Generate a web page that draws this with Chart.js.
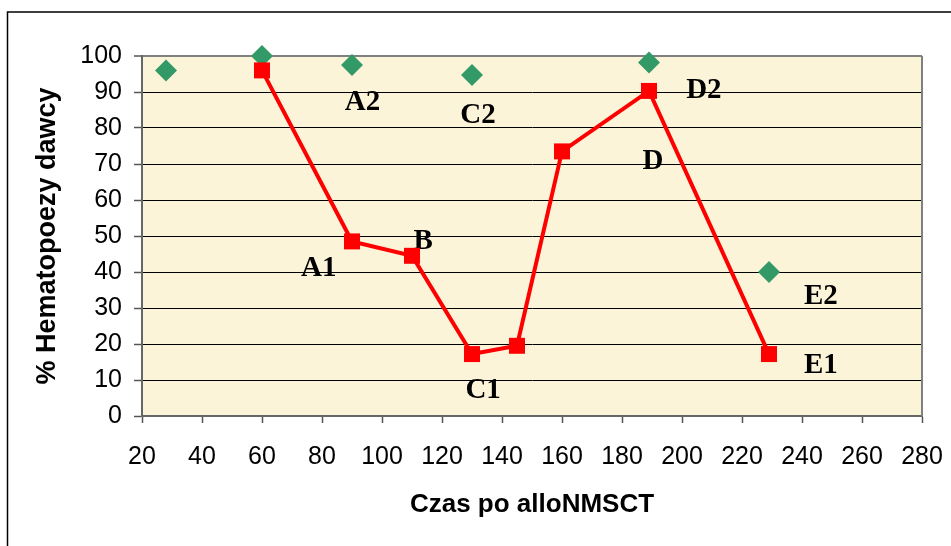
<!DOCTYPE html>
<html>
<head>
<meta charset="utf-8">
<script src="https://cdn.jsdelivr.net/npm/chart.js@4/dist/chart.umd.min.js"></script>
<style>
  html, body { margin: 0; padding: 0; background: #fff; }
  #wrap { width: 951px; height: 546px; }
</style>
</head>
<body>
<div id="wrap"><canvas id="c" width="951" height="546"></canvas></div>
<script>
// Days after alloNMSCT and % donor haematopoiesis
const daysRed = [60, 90, 110, 130, 145, 160, 189, 229];
const valuesRed = [96, 48.5, 44.5, 17.2, 19.5, 73.5, 90.3, 17.2];

const daysGreen = [28, 60, 90, 130, 189, 229];
const valuesGreen = [96, 100, 97.5, 94.7, 98.2, 40];

// Point annotations (anchored in axis units)
const noteText = ['A2', 'C2', 'D2', 'D', 'A1', 'B', 'C1', 'E2', 'E1'];
const noteDay = [93.5, 132, 207.3, 190.3, 78.9, 113.7, 133.7, 246.3, 246.3];
const noteValue = [87.1, 83.6, 90.3, 70.6, 41.0, 48.4, 7.0, 33.3, 13.9];

const xTicks = { min: 20, max: 280, step: 20 };
const yTicks = { min: 0, max: 100, step: 10 };

const toPoints = (xs, ys) => xs.map((x, i) => ({ x, y: ys[i] }));

const backdrop = {
  id: 'backdrop',
  beforeDraw(chart) {
    const { ctx, chartArea: a, scales } = chart;
    ctx.save();
    // plot area fill
    ctx.fillStyle = '#fcf4d9';
    ctx.fillRect(a.left, a.top, a.right - a.left, a.bottom - a.top);
    // outer frame (left and top edges)
    ctx.strokeStyle = '#000';
    ctx.lineWidth = 1.5;
    ctx.beginPath();
    ctx.moveTo(7.5, 546);
    ctx.lineTo(7.5, 12);
    ctx.lineTo(951, 12);
    ctx.stroke();
    // annotations
    ctx.fillStyle = '#000';
    ctx.font = 'bold 29px "Liberation Serif", "Times New Roman", serif';
    ctx.textAlign = 'center';
    ctx.textBaseline = 'middle';
    noteText.forEach((t, i) => {
      ctx.fillText(t, scales.x.getPixelForValue(noteDay[i]), scales.y.getPixelForValue(noteValue[i]));
    });
    ctx.restore();
  },
  beforeDatasetsDraw(chart) {
    const { ctx, chartArea: a } = chart;
    ctx.save();
    ctx.strokeStyle = '#808080';
    ctx.lineWidth = 2;
    ctx.beginPath();
    ctx.moveTo(a.right, a.top);
    ctx.lineTo(a.right, a.bottom);
    ctx.stroke();
    ctx.restore();
  }
};

const tickFont = { family: '"Liberation Sans", Arial, sans-serif', size: 25 };
const titleFont = { family: '"Liberation Sans", Arial, sans-serif', size: 26, weight: 'bold' };
const yTitleFont = { family: '"Liberation Sans", Arial, sans-serif', size: 27, weight: 'bold' };

new Chart(document.getElementById('c'), {
  type: 'scatter',
  data: {
    datasets: [
      {
        label: 'Seria 1',
        data: toPoints(daysRed, valuesRed),
        showLine: true,
        borderColor: '#ff0000',
        borderWidth: 4,
        tension: 0,
        pointStyle: 'rect',
        pointRadius: 11.3,
        pointBackgroundColor: '#ff0000',
        pointBorderWidth: 0,
        clip: false
      },
      {
        label: 'Seria 2',
        data: toPoints(daysGreen, valuesGreen),
        showLine: false,
        pointStyle: 'rectRot',
        pointRadius: 11,
        pointBackgroundColor: '#339966',
        pointBorderWidth: 0,
        clip: false
      }
    ]
  },
  options: {
    responsive: false,
    animation: false,
    events: [],
    layout: { padding: { left: 0, right: 29, top: 56, bottom: 0 } },
    plugins: { legend: { display: false }, tooltip: { enabled: false } },
    scales: {
      x: {
        type: 'linear',
        min: xTicks.min,
        max: xTicks.max,
        ticks: { stepSize: xTicks.step, color: '#000', font: tickFont, padding: 19, maxRotation: 0 },
        grid: { drawOnChartArea: false, drawTicks: true, tickLength: 7, tickColor: '#555', tickWidth: 1.5 },
        border: { color: '#666', width: 2 },
        title: { display: true, text: 'Czas po alloNMSCT', color: '#000', font: titleFont, padding: { top: 0, bottom: 26 } },
        afterFit(s) { s.height = 130; s.paddingLeft = 0; s.paddingRight = 0; }
      },
      y: {
        min: yTicks.min,
        max: yTicks.max,
        ticks: { stepSize: yTicks.step, color: '#000', font: tickFont, padding: 12 },
        grid: {
          color: c => (c.tick && c.tick.value === yTicks.max ? '#808080' : '#000'),
          lineWidth: c => (c.tick && c.tick.value === yTicks.max ? 2 : 1),
          drawTicks: true,
          tickLength: 8,
          tickColor: '#555',
          tickWidth: 1.5
        },
        border: { color: '#666', width: 2 },
        title: { display: true, text: '% Hematopoezy dawcy', color: '#000', font: yTitleFont, padding: { top: 31, bottom: 0 } },
        afterFit(s) { s.width = 142; s.paddingTop = 0; s.paddingBottom = 0; }
      }
    }
  },
  plugins: [backdrop]
});
</script>
</body>
</html>
